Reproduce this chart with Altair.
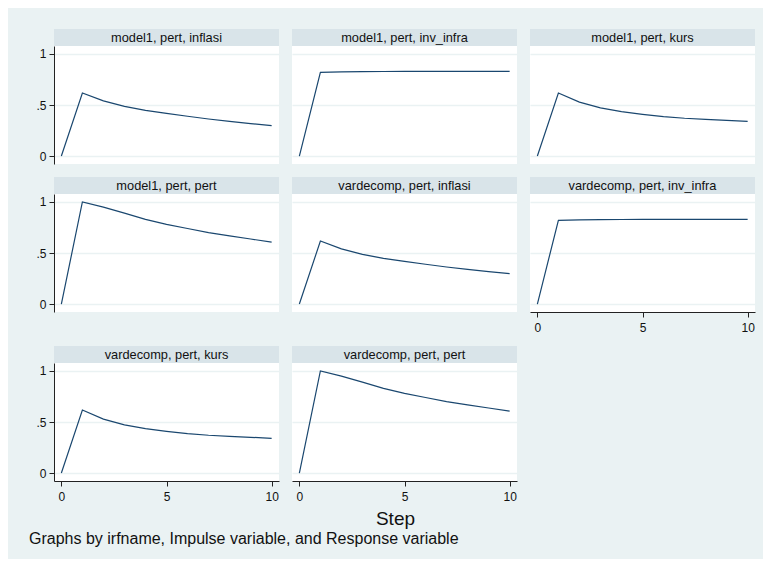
import altair as alt
import pandas as pd

steps = list(range(11))
inflasi = [0, 0.617, 0.54, 0.487, 0.448, 0.418, 0.39, 0.363, 0.34, 0.318, 0.297]
inv_infra = [0, 0.82, 0.825, 0.827, 0.828, 0.829, 0.83, 0.83, 0.83, 0.83, 0.83]
kurs = [0, 0.617, 0.528, 0.472, 0.436, 0.409, 0.386, 0.37, 0.36, 0.35, 0.34]
pert = [0, 1.0, 0.95, 0.89, 0.83, 0.78, 0.74, 0.70, 0.667, 0.637, 0.607]

panel_titles = [
    "model1, pert, inflasi", "model1, pert, inv_infra", "model1, pert, kurs",
    "model1, pert, pert", "vardecomp, pert, inflasi", "vardecomp, pert, inv_infra",
    "vardecomp, pert, kurs", "vardecomp, pert, pert",
]
series = {"inflasi": inflasi, "inv_infra": inv_infra, "kurs": kurs, "pert": pert}
y_ticks = [0, 0.5, 1]
x_ticks = [0, 5, 10]

BG = "#EAF2F3"
HDR = "#D9E4E9"
NAVY = "#1A476F"
FONT = "Liberation Sans"
W, H, HH = 225, 118, 17


def panel(title, show_x, show_y):
    resp = title.split(", ")[-1]
    df = pd.DataFrame({"step": steps, "value": series[resp]})
    header = (
        alt.Chart(pd.DataFrame({"t": [title]}))
        .mark_text(font=FONT, fontSize=12.8, color="#111111")
        .encode(text="t:N")
        .properties(width=W, height=HH, view=alt.ViewBackground(fill=HDR, stroke=None))
    )
    if show_x:
        xaxis = alt.Axis(values=x_ticks, grid=False, title=None, tickSize=5,
                         labelPadding=5, labelFont=FONT, labelFontSize=12,
                         labelColor="#111111", domainColor="#222222",
                         tickColor="#222222", labelFlush=False,
                         minExtent=21, maxExtent=21)
    else:
        xaxis = None
    if show_y:
        yaxis = alt.Axis(values=y_ticks, grid=True, gridColor=BG, gridWidth=1.5,
                         title=None, tickSize=5, labelPadding=3, labelFont=FONT,
                         labelFontSize=12, labelColor="#111111",
                         domainColor="#222222", tickColor="#222222",
                         labelExpr="datum.value == 0.5 ? '.5' : format(datum.value, 'd')")
    else:
        yaxis = alt.Axis(values=y_ticks, grid=True, gridColor=BG, gridWidth=1.5,
                         title=None, labels=False, ticks=False, domain=False)
    plot = (
        alt.Chart(df)
        .mark_line(color=NAVY, strokeWidth=1.2)
        .encode(
            x=alt.X("step:Q", scale=alt.Scale(domain=[-0.35, 10.35], nice=False, zero=False), axis=xaxis),
            y=alt.Y("value:Q", scale=alt.Scale(domain=[-0.078, 1.078], nice=False, zero=False), axis=yaxis),
        )
        .properties(width=W, height=H, view=alt.ViewBackground(fill="white", stroke=None))
    )
    return alt.vconcat(header, plot, spacing=0)


bottom = {5, 6, 7}
rows = []
for r in range(3):
    cells = []
    for c in range(3):
        i = r * 3 + c
        if i >= len(panel_titles):
            continue
        cells.append(panel(panel_titles[i], i in bottom, c == 0))
    rows.append(alt.hconcat(*cells, spacing=13))

grid = alt.vconcat(*rows, spacing=13).properties(
    title=alt.TitleParams("Step", orient="bottom", anchor="middle", font=FONT,
                          fontSize=19, fontWeight="normal", color="#111111", offset=8)
)

chart = alt.vconcat(grid).properties(
    title=alt.TitleParams("Graphs by irfname, Impulse variable, and Response variable",
                          orient="bottom", anchor="start", font=FONT, fontSize=16,
                          fontWeight="normal", color="#111111", offset=2, dx=-7),
    background=BG,
    padding={"left": 20, "top": 21, "right": 8, "bottom": 12},
).configure_concat(spacing=0)

chart.save("out.html", embed_options={"renderer": "svg", "actions": False})
